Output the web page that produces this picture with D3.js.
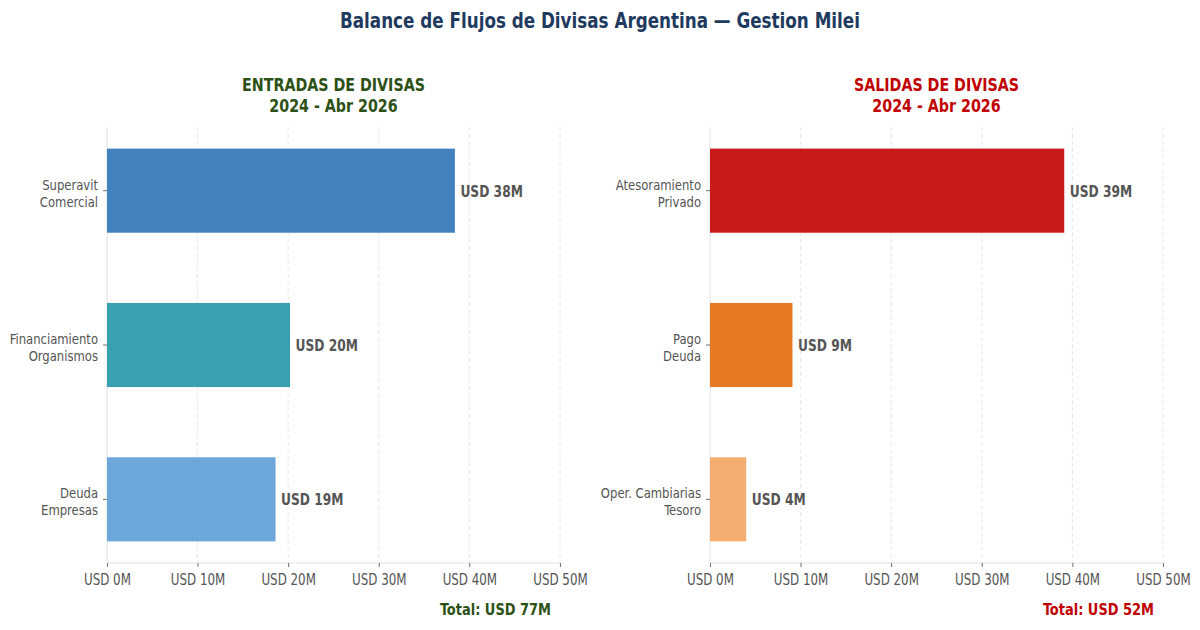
<!DOCTYPE html>
<html>
<head>
<meta charset="utf-8">
<script src="https://cdn.jsdelivr.net/npm/d3@7"></script>
<style>
  body { margin: 0; background: #fff; }
  svg { font-family: "DejaVu Sans Condensed", "DejaVu Sans", sans-serif; }
</style>
</head>
<body>
<script>
'use strict';

var width = 1200,
    height = 630;

// data
var inCategories = ["Superavit\nComercial", "Financiamiento\nOrganismos", "Deuda\nEmpresas"];
var inValues = [38.4, 20.2, 18.6];
var inColors = ["#4482bf", "#38a0ae", "#6ca6da"];

var outCategories = ["Atesoramiento\nPrivado", "Pago\nDeuda", "Oper. Cambiarias\nTesoro"];
var outValues = [39.1, 9.1, 4.0];
var outColors = ["#c8191b", "#e67a22", "#f5ae6f"];

var xTicks = [0, 10, 20, 30, 40, 50];

// the reference text is squeezed sideways, so draw everything in a wider
// space and scale it back horizontally
var sx = 0.88;
function px(v) { return v / sx; }

var svg = d3.select("body").append("svg")
    .attr("width", width)
    .attr("height", height);

var root = svg.append("g")
    .attr("transform", "scale(" + sx + ",1)");

root.append("text")
    .attr("x", px(width / 2))
    .attr("y", 28)
    .attr("text-anchor", "middle")
    .style("font-size", "21.2px")
    .style("font-weight", "bold")
    .style("fill", "#1f3a60")
    .text("Balance de Flujos de Divisas Argentina \u2014 Gestion Milei");

function panel(left, right, cats, vals, colors, title, titleColor) {
  var top = 127, bottom = 563;
  var x = d3.scaleLinear().domain([0, 50]).range([px(left), px(right)]);
  var y = d3.scaleBand().domain(cats).range([top, bottom])
      .paddingInner(0.455).paddingOuter(0.14);

  var g = root.append("g");

  // title
  var cx = px((left + right) / 2);
  var t = g.append("text")
      .attr("text-anchor", "middle")
      .style("font-size", "18px")
      .style("font-weight", "bold")
      .style("fill", titleColor);
  t.append("tspan").attr("x", cx).attr("y", 91).text(title);
  t.append("tspan").attr("x", cx).attr("y", 112).text("2024 - Abr 2026");

  // grid
  g.append("g").selectAll("line")
      .data(xTicks.slice(1))
      .enter().append("line")
        .attr("x1", function(d) { return x(d); })
        .attr("x2", function(d) { return x(d); })
        .attr("y1", top)
        .attr("y2", bottom)
        .attr("stroke", "#e4e4e4")
        .attr("stroke-width", 0.9)
        .attr("stroke-dasharray", "4,3");

  // spines
  g.append("line")
      .attr("x1", x(0)).attr("x2", x(0))
      .attr("y1", top).attr("y2", bottom)
      .attr("stroke", "#e0e0e0");
  g.append("line")
      .attr("x1", x(0)).attr("x2", x(50))
      .attr("y1", bottom).attr("y2", bottom)
      .attr("stroke", "#e0e0e0");

  // bars
  g.append("g").selectAll("rect")
      .data(vals)
      .enter().append("rect")
        .attr("x", x(0))
        .attr("y", function(d, i) { return y(cats[i]); })
        .attr("width", function(d) { return x(d) - x(0); })
        .attr("height", y.bandwidth())
        .attr("fill", function(d, i) { return colors[i]; });

  // value labels
  g.append("g").selectAll("text")
      .data(vals)
      .enter().append("text")
        .attr("x", function(d) { return x(d) + px(5.5); })
        .attr("y", function(d, i) { return y(cats[i]) + y.bandwidth() / 2 + 6; })
        .style("font-size", "15.5px")
        .style("font-weight", "bold")
        .style("fill", "#555")
        .text(function(d) { return "USD " + Math.round(d) + "M"; });

  // x axis
  var xAxis = g.append("g")
      .attr("transform", "translate(0," + bottom + ")")
      .call(d3.axisBottom(x).tickValues(xTicks).tickSize(4).tickPadding(7.5)
          .tickFormat(function(d) { return "USD " + d + "M"; }))
      .attr("font-family", null)
      .attr("font-size", null);
  xAxis.select(".domain").remove();
  xAxis.selectAll("line").attr("stroke", "#666");
  xAxis.selectAll("text")
      .style("font-size", "15px")
      .style("fill", "#555");

  // y axis
  var yAxis = g.append("g")
      .attr("transform", "translate(" + x(0) + ",0)")
      .call(d3.axisLeft(y).tickSize(px(4)).tickPadding(5).tickFormat(""))
      .attr("font-family", null)
      .attr("font-size", null);
  yAxis.select(".domain").remove();
  yAxis.selectAll("line").attr("stroke", "#666");
  yAxis.selectAll(".tick").each(function(d) {
    var lines = d.split("\n");
    var txt = d3.select(this).append("text")
        .attr("text-anchor", "end")
        .style("font-size", "14.7px")
        .style("fill", "#555");
    lines.forEach(function(l, i) {
      txt.append("tspan").attr("x", -px(9)).attr("y", i === 0 ? -1 : 16).text(l);
    });
  });

  // total
  g.append("text")
      .attr("x", px(right - 9))
      .attr("y", 615)
      .attr("text-anchor", "end")
      .style("font-size", "16.4px")
      .style("font-weight", "bold")
      .style("fill", titleColor)
      .text("Total: USD " + Math.round(d3.sum(vals)) + "M");
}

panel(107, 560, inCategories, inValues, inColors, "ENTRADAS DE DIVISAS", "#2d5016");
panel(710, 1163, outCategories, outValues, outColors, "SALIDAS DE DIVISAS", "#c00000");
</script>
</body>
</html>
